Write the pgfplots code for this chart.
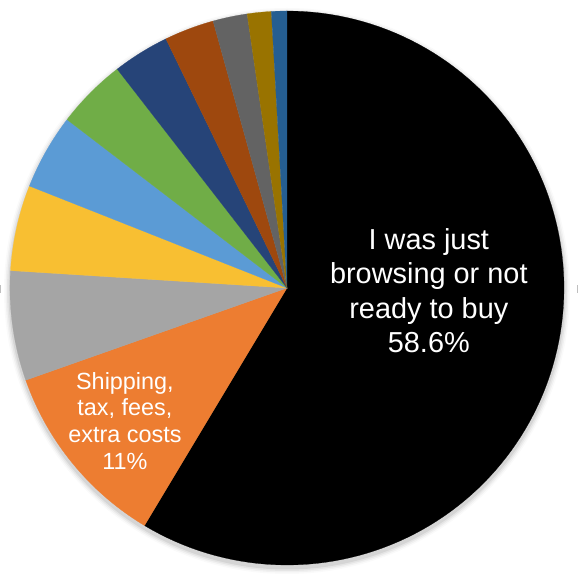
\documentclass[border=0pt]{standalone}
\usepackage{pgfplots}
\pgfplotsset{compat=1.18}
\usepackage{fontspec}
\setmainfont{Liberation Sans}
\definecolor{cA}{HTML}{000000}
\definecolor{cB}{HTML}{ED7D31}
\definecolor{cC}{HTML}{A5A5A5}
\definecolor{cD}{HTML}{F8BF32}
\definecolor{cE}{HTML}{5B9BD5}
\definecolor{cF}{HTML}{70AD47}
\definecolor{cG}{HTML}{264478}
\definecolor{cH}{HTML}{9E480E}
\definecolor{cI}{HTML}{636363}
\definecolor{cJ}{HTML}{997300}
\definecolor{cK}{HTML}{255E91}
% shares in percent, clockwise from 12 o'clock
\def\pA{58.6}\def\pB{11.0}\def\pC{6.4}\def\pD{5.0}\def\pE{4.4}\def\pF{4.1}
\def\pG{3.3}\def\pH{2.9}\def\pI{2.0}\def\pJ{1.4}\def\pK{0.9}
\pgfmathsetmacro\aA{90}
\pgfmathsetmacro\aB{\aA-3.6*\pA}
\pgfmathsetmacro\aC{\aB-3.6*\pB}
\pgfmathsetmacro\aD{\aC-3.6*\pC}
\pgfmathsetmacro\aE{\aD-3.6*\pD}
\pgfmathsetmacro\aF{\aE-3.6*\pE}
\pgfmathsetmacro\aG{\aF-3.6*\pF}
\pgfmathsetmacro\aH{\aG-3.6*\pG}
\pgfmathsetmacro\aI{\aH-3.6*\pH}
\pgfmathsetmacro\aJ{\aI-3.6*\pI}
\pgfmathsetmacro\aK{\aJ-3.6*\pJ}
\pgfmathsetmacro\aL{\aK-3.6*\pK}
\begin{document}
\begin{tikzpicture}
\useasboundingbox (0,0) rectangle (578bp,579bp);
% soft shadow
\foreach \r/\o in {283/0.02,281.5/0.035,280/0.05,278.5/0.07}{
  \fill[black,opacity=\o] (287bp,288bp) circle (\r bp);
}
\draw[black!25,line width=1bp] (0.5bp,286bp) -- (0.5bp,294bp);
\draw[black!25,line width=1bp] (577bp,286bp) -- (577bp,294bp);
\begin{axis}[
  scale only axis, width=578bp, height=579bp,
  xmin=-1.036, xmax=1.0505, ymin=-1.0505, ymax=1.0397,
  hide axis, clip=false, anchor=south west, at={(0,0)},
]
\newcommand\slice[3]{%
  \addplot[fill=#3, draw=#3, line width=0.2pt, domain=#2:#1, samples=120, variable=\t]
    ({cos(\t)},{sin(\t)}) -- (axis cs:0,0) -- cycle;}
\slice{\aA}{\aB}{cA}
\slice{\aB}{\aC}{cB}
\slice{\aC}{\aD}{cC}
\slice{\aD}{\aE}{cD}
\slice{\aE}{\aF}{cE}
\slice{\aF}{\aG}{cF}
\slice{\aG}{\aH}{cG}
\slice{\aH}{\aI}{cH}
\slice{\aI}{\aJ}{cI}
\slice{\aJ}{\aK}{cJ}
\slice{\aK}{\aL}{cK}
\node[white, align=center, font=\fontsize{29}{34.5}\selectfont] at (axis cs:0.512,-0.01)
  {I was just\\browsing or not\\ready to buy\\58.6\%};
\node[white, align=center, font=\fontsize{23.5}{27}\selectfont] at (axis cs:-0.585,-0.48)
  {Shipping,\\tax, fees,\\extra costs\\11\%};
\end{axis}
\end{tikzpicture}
\end{document}
